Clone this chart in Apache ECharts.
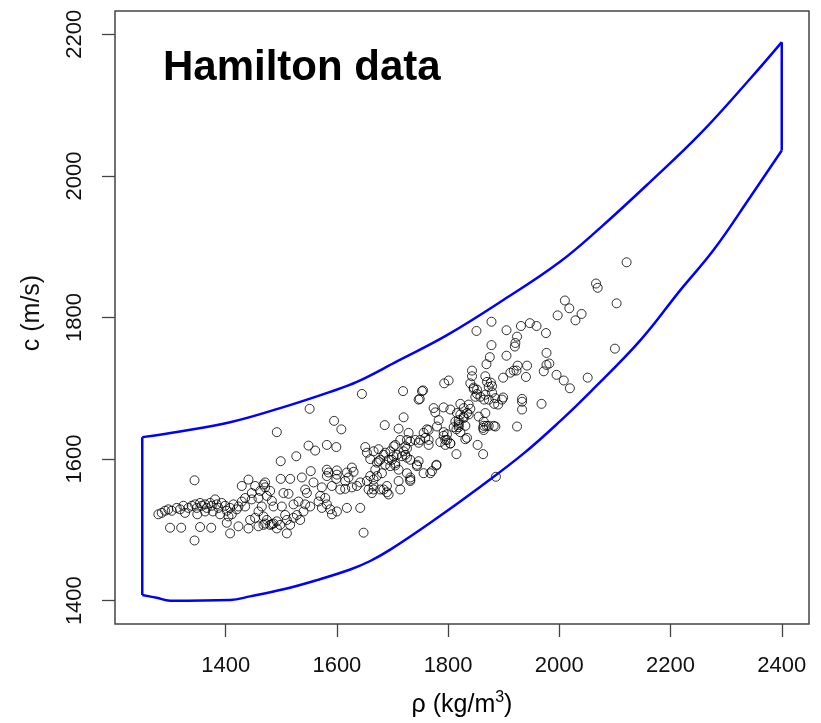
<!DOCTYPE html>
<html>
<head>
<meta charset="utf-8">
<title>Hamilton data</title>
<script src="https://cdn.jsdelivr.net/npm/echarts@6/dist/echarts.min.js"></script>
<style>
  html, body { margin: 0; padding: 0; background: #fff; }
  #chart { width: 821px; height: 723px; }
</style>
</head>
<body>
<div id="chart"></div>
<script>
// tick labels
const xTicks = [1400, 1600, 1800, 2000, 2200, 2400]
const yTicks = [1400, 1600, 1800, 2000, 2200]

// blue envelope, upper and lower bounds
const upperRho = [1250, 1318, 1408, 1498, 1588, 1636, 1708, 1798, 1900, 2000, 2074, 2164, 2254, 2344, 2400]
const upperC = [1631, 1639, 1652, 1672, 1695, 1709, 1738, 1775, 1825, 1878, 1927, 1992, 2060, 2138, 2189]
const lowerRho = [1250, 1276, 1300, 1408, 1444, 1504, 1564, 1624, 1660, 1696, 1768, 1858, 1936, 2002, 2056, 2146, 2218, 2278, 2344, 2400]
const lowerC = [1408, 1404, 1400, 1401, 1406, 1416, 1429, 1444, 1456, 1472, 1510, 1561, 1608, 1654, 1695, 1768, 1839, 1896, 1971, 2036]

// Hamilton samples: [density, sound speed]
const samples = [
  [1285,1524],[1279,1522],[1291,1527],[1297,1529],[1303,1527],[1312,1531],[1318,1529],[1324,1534],[1327,1524],[1333,1531],
  [1339,1534],[1345,1536],[1348,1531],[1354,1538],[1357,1534],[1363,1536],[1366,1531],[1372,1538],[1375,1534],[1381,1543],
  [1384,1536],[1387,1531],[1393,1538],[1399,1534],[1402,1527],[1408,1531],[1414,1536],[1420,1529],[1411,1522],[1405,1519],
  [1300,1503],[1320,1503],[1354,1504],[1374,1503],[1344,1485],[1402,1510],[1408,1495],[1423,1505],[1344,1570],[1363,1526],
  [1377,1526],[1349,1522],[1390,1522],
  [1429,1562],[1441,1571],[1453,1562],[1468,1564],[1462,1555],[1447,1552],[1435,1545],[1429,1540],[1423,1533],[1435,1533],
  [1447,1543],[1459,1545],[1474,1548],[1480,1555],[1483,1541],[1465,1533],[1459,1526],[1453,1517],[1444,1514],[1441,1502],
  [1459,1505],[1471,1509],[1483,1508],[1471,1567],[1471,1560],[1486,1533],[1504,1552],[1513,1551],[1501,1533],[1507,1521],
  [1522,1536],[1531,1540],[1543,1536],[1552,1533],[1567,1540],[1570,1548],[1579,1545],[1582,1536],[1573,1531],[1588,1529],
  [1591,1522],[1600,1526],[1618,1531],[1642,1531],[1468,1519],[1474,1514],[1468,1507],[1480,1507],[1492,1512],[1498,1507],
  [1510,1514],[1522,1517],[1528,1521],[1540,1526],[1534,1514],[1516,1507],[1510,1495],[1492,1502],[1486,1509],[1648,1496],
  [1549,1619],[1561,1612],[1582,1620],[1599,1617],[1527,1604],[1499,1597],[1651,1617],[1654,1609],[1666,1611],[1675,1614],
  [1687,1609],[1660,1600],[1672,1595],[1687,1592],[1553,1583],[1537,1574],[1516,1572],[1499,1572],[1582,1585],[1585,1581],
  [1582,1576],[1600,1584],[1600,1578],[1599,1572],[1618,1581],[1627,1588],[1630,1582],[1621,1574],[1615,1569],[1558,1567],
  [1543,1557],[1546,1552],[1573,1560],[1591,1562],[1606,1557],[1615,1558],[1627,1560],[1636,1562],[1642,1567],[1654,1569],
  [1660,1576],[1666,1562],[1678,1557],[1690,1553],[1657,1557],[1663,1552],[1492,1638],[1551,1671],[1595,1654],[1608,1642],
  [1645,1692],[1719,1696],[1749,1685],[1755,1697],
  [1693,1599],[1702,1604],[1705,1594],[1711,1585],[1696,1590],[1678,1599],[1686,1648],[1720,1659],[1711,1643],[1729,1637],
  [1726,1627],[1714,1627],[1705,1620],[1726,1615],[1723,1606],[1732,1599],[1726,1580],[1732,1571],[1744,1592],[1756,1580],
  [1768,1580],[1779,1592],[1762,1642],[1759,1630],[1765,1627],[1741,1627],[1747,1623],[1792,1633],[1798,1627],[1804,1622],
  [1819,1645],[1831,1647],[1834,1630],[1864,1647],[1882,1647],[1853,1620],[1815,1607],[1924,1646],[1886,1575],
  [1753,1696],[1747,1684],[1793,1707],[1801,1711],[1774,1672],[1792,1673],[1804,1670],[1777,1666],[1840,1707],[1846,1699],
  [1852,1692],[1858,1688],[1867,1691],[1873,1702],[1877,1708],[1879,1694],[1885,1686],[1837,1677],[1840,1671],[1834,1665],
  [1828,1660],[1819,1655],[1813,1653],[1819,1648],[1810,1645],[1815,1642],[1822,1638],[1867,1665],[1864,1653],[1864,1641],
  [1885,1646],[1783,1655],[1780,1646],[1765,1641],[1756,1637],[1750,1627],[1765,1620],[1792,1638],[1798,1635],[1795,1627],
  [1786,1624],[1804,1622],[1795,1620],[1831,1628],[1863,1607],[1732,1625],[1723,1618],[1720,1611],[1717,1604],[1726,1602],
  [1708,1606],[1702,1618],[1696,1611],[1699,1599],[1705,1591],[1684,1606],[1675,1597],[1669,1585],[1681,1580],[1672,1576],
  [1666,1571],[1747,1597],[1744,1590],[1771,1583],[1779,1591],[1732,1574],[1732,1569],[1711,1569],[1714,1557],[1690,1562],
  [1684,1557],[1693,1550],[1666,1557],
  [1878,1794],[1851,1781],[1905,1782],[1931,1788],[1947,1792],[1959,1788],[1924,1773],[1921,1764],[1920,1759],[1878,1761],
  [1905,1746],[1875,1744],[1869,1734],[1925,1732],[1942,1732],[1918,1725],[1923,1725],[1912,1722],[1899,1715],[1940,1716],
  [1843,1725],[1843,1717],[1867,1717],[1870,1709],[1879,1703],[1846,1701],[1852,1698],[1849,1688],[1899,1687],[1897,1684],
  [1933,1685],[1933,1681],[1933,1670],[1968,1678],[1865,1684],[1873,1684],[1883,1678],[1890,1677],[1822,1678],[1828,1672],
  [1816,1665],[1822,1663],[1828,1658],[1819,1651],[1837,1663],[1855,1660],[1873,1647],[1863,1644],[1869,1647],
  [2121,1878],[2066,1848],[2069,1842],[2103,1820],[2010,1824],[2018,1813],[1997,1803],[2040,1805],[2029,1796],[1976,1778],
  [2100,1756],[1977,1750],[1982,1735],[1977,1733],[1972,1724],[1995,1719],[2008,1711],[2019,1700],[2051,1715]
]

const font = '"Liberation Sans", Arial, sans-serif'
const blue = '#0000ff'
const ink = '#111'

const zip = (xs, ys) => xs.map((x, i) => [x, ys[i]])
const upper = zip(upperRho, upperC)
const lower = zip(lowerRho, lowerC)
const leftEdge = [upper[0], lower[0]]
const rightEdge = [upper[upper.length - 1], lower[lower.length - 1]]

const chart = echarts.init(document.getElementById('chart'))

const envelopeLine = (data, smooth) => ({
  type: 'line',
  data,
  smooth,
  showSymbol: false,
  symbol: 'none',
  silent: true,
  lineStyle: { color: blue, width: 2.5 },
  z: 3
})

const option = {
  animation: false,
  backgroundColor: '#fff',
  grid: {
    left: 115, right: 12, top: 11, bottom: 99,
    show: true,
    borderColor: '#444',
    borderWidth: 1.5,
    containLabel: false,
    outerBoundsMode: 'none'
  },
  xAxis: {
    type: 'value',
    min: 1201,
    max: 2449,
    axisLine: { show: false },
    splitLine: { show: false },
    axisTick: { customValues: xTicks, length: 13, lineStyle: { color: '#444', width: 1.3 } },
    axisLabel: { customValues: xTicks, formatter: v => String(v), fontSize: 22, fontFamily: font, color: ink, margin: 31 }
  },
  yAxis: {
    type: 'value',
    min: 1367,
    max: 2233,
    axisLine: { show: false },
    splitLine: { show: false },
    axisTick: { customValues: yTicks, length: 13, lineStyle: { color: '#444', width: 1.3 } },
    axisLabel: { customValues: yTicks, formatter: v => String(v), fontSize: 22, fontFamily: font, color: ink, margin: 29, rotate: 90 }
  },
  graphic: [
    {
      type: 'text', x: 163, y: 68, silent: true,
      style: { text: 'Hamilton data', font: 'bold 42px ' + font, fill: '#000', textVerticalAlign: 'middle' }
    },
    {
      type: 'text', x: 32, y: 313, rotation: Math.PI / 2, silent: true,
      style: { text: 'c (m/s)', font: '25px ' + font, fill: ink, textAlign: 'center', textVerticalAlign: 'middle' }
    },
    {
      type: 'text', x: 462, y: 705, silent: true,
      style: {
        text: '{n|ρ (kg/m}{s|3}{n|)}',
        textAlign: 'center',
        textVerticalAlign: 'middle',
        rich: {
          n: { fontSize: 25, fontFamily: font, color: ink, lineHeight: 30 },
          s: { fontSize: 16, fontFamily: font, color: ink, verticalAlign: 'top', lineHeight: 18 }
        }
      }
    }
  ],
  series: [
    {
      type: 'scatter',
      data: samples,
      symbol: 'circle',
      symbolSize: 9,
      silent: true,
      itemStyle: { color: 'rgba(0,0,0,0)', borderColor: '#000', borderWidth: 1 },
      z: 2
    },
    envelopeLine(upper, 0.4),
    envelopeLine(lower, 0.4),
    envelopeLine(leftEdge, false),
    envelopeLine(rightEdge, false)
  ]
}

chart.setOption(option)
</script>
</body>
</html>
